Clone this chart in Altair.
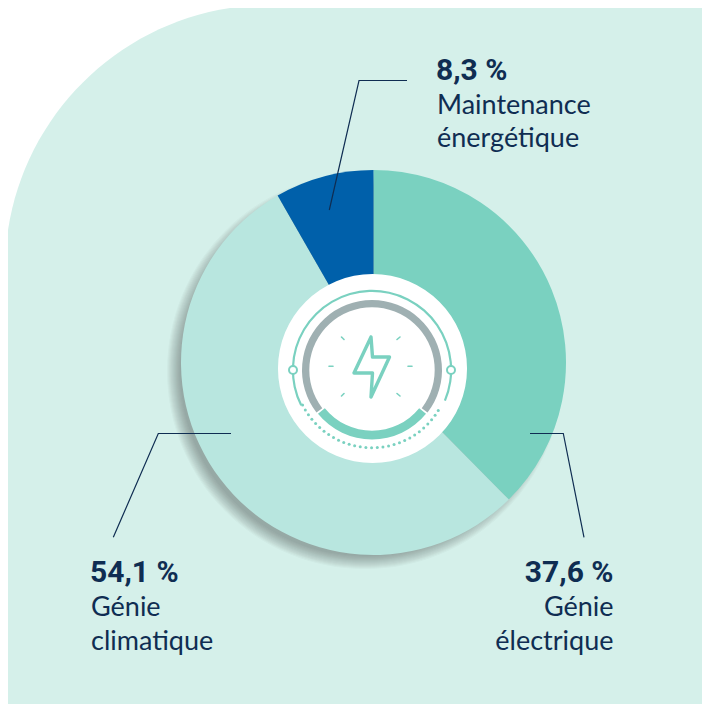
import math
import altair as alt
import pandas as pd

# ---- data ----
CATEGORIES = ["Génie électrique", "Génie climatique", "Maintenance énergétique"]
VALUES = [37.6, 54.1, 8.3]
COLORS = ["#7ad1c0", "#b8e6df", "#0060aa"]

NAVY = "#0f2d52"
TEAL = "#7ad1c0"
GREY = "#9fb0b2"
BG = "#d5f0ea"

PCT_LABELS = [("8,3 %", 436, 79.5, "left"), ("37,6 %", 613.5, 581.5, "right"), ("54,1 %", 90, 581.5, "left")]
NAME_LABELS = [
    ("Maintenance", 437, 114, "left"), ("énergétique", 437, 147, "left"),
    ("Génie", 613.5, 616, "right"), ("électrique", 613.5, 650, "right"),
    ("Génie", 91, 616, "left"), ("climatique", 91, 650, "left"),
]
LEADERS = [
    [(407, 80.5), (359, 80.5), (329.3, 210)],
    [(530, 433.5), (563.3, 433.5), (584, 537.3)],
    [(231, 433.5), (158.3, 433.5), (113.3, 537.3)],
]
PIE_C = (373.5, 362.5)
PIE_R = 192.5
SHADOW_C = (365, 371)
SHADOW_RADII = [198, 197, 196, 195, 194, 193, 192, 191, 190, 189, 188, 187, 186, 185]
HOLE_C = (372.5, 368.5)
HOLE_R = 94.5
ICON_C = (372, 370)
BOLT = [(371, 337), (372.5, 357), (389.5, 357), (371, 397), (372.5, 373), (354, 373), (371, 337)]
TICKS = [
    [(341.5, 337), (344, 339.5)], [(400, 337), (397, 339.5)],
    [(329, 366.3), (333, 366.3)], [(408, 366.3), (412, 366.3)],
    [(341.5, 396), (344, 393.5)], [(400, 396), (397, 393.5)],
]
NODES = [(293, 370), (451, 370)]
DOT_ANGLES = [121.5, 125.7, 129.9, 134.1, 138.3, 142.5, 146.7, 150.9, 155.1, 159.3,
              163.5, 167.7, 171.9, 176.1, 180.3, 184.5, 188.7, 192.9, 197.1, 201.3,
              205.5, 209.7, 213.9, 218.1, 222.3, 226.5, 230.7, 234.9, 239.1, 243.3]

XS = alt.Scale(domain=[8, 702], range=[0, 694])
YS = alt.Scale(domain=[8, 704], range=[0, 696])
X = lambda f="x": alt.X(f"{f}:Q", scale=XS, axis=None)
Y = lambda f="y": alt.Y(f"{f}:Q", scale=YS, axis=None)
TAU = 2 * math.pi
rad = math.radians


def pt(c):
    return pd.DataFrame({"x": [c[0]], "y": [c[1]]})


def disc(c, r, **kw):
    return alt.Chart(pt(c)).mark_arc(theta=0, theta2=TAU, radius=r, radius2=0, **kw).encode(x=X(), y=Y())


def ring(c, r, r2, a, b, **kw):
    return alt.Chart(pt(c)).mark_arc(theta=rad(a), theta2=rad(b), radius=r, radius2=r2, **kw).encode(x=X(), y=Y())


def path(points, **kw):
    df = pd.DataFrame({"x": [p[0] for p in points], "y": [p[1] for p in points], "o": list(range(len(points)))})
    return alt.Chart(df).mark_line(**kw).encode(x=X(), y=Y(), order="o:Q")


def text(rows, **kw):
    df = pd.DataFrame(rows, columns=["t", "x", "y", "a"])
    return [
        alt.Chart(df[df.a == a]).mark_text(align=a, baseline="alphabetic", **kw).encode(x=X(), y=Y(), text="t:N")
        for a in ["left", "right"]
    ]


layers = []
# panel with the large rounded corner
panel = pd.DataFrame({"x": [5], "x2": [740], "y": [5], "y2": [740]})
layers.append(alt.Chart(panel).mark_rect(color=BG, cornerRadiusTopLeft=265).encode(
    x=X(), x2="x2:Q", y=Y(), y2="y2:Q"))
# soft shadow
for r in SHADOW_RADII:
    layers.append(disc(SHADOW_C, r, color="#1c2c2c", opacity=0.026))
# pie
pie = pd.DataFrame({"cat": CATEGORIES, "v": VALUES, "o": [0, 1, 2], "x": PIE_C[0], "y": PIE_C[1]})
layers.append(alt.Chart(pie).mark_arc(radius=PIE_R).encode(
    x=X(), y=Y(),
    theta=alt.Theta("v:Q", stack=True),
    order=alt.Order("o:Q"),
    color=alt.Color("cat:N", scale=alt.Scale(domain=CATEGORIES, range=COLORS), legend=None),
))
layers.append(disc(HOLE_C, HOLE_R, color="#ffffff"))
# icon
layers.append(ring(ICON_C, 80.2, 78, 243.5, 472.8, color=TEAL))
layers.append(ring(ICON_C, 70, 62.7, 232.5, 487.5, color=GREY))
layers.append(ring(ICON_C, 69.5, 60.7, 129, 231, color=TEAL))
dots = pd.DataFrame({
    "x": [ICON_C[0] + 77.7 * math.sin(rad(a)) for a in DOT_ANGLES],
    "y": [ICON_C[1] - 77.7 * math.cos(rad(a)) for a in DOT_ANGLES],
})
layers.append(alt.Chart(dots).mark_circle(color=TEAL, size=9, opacity=1).encode(x=X(), y=Y()))
nodes = pd.DataFrame(NODES, columns=["x", "y"])
layers.append(alt.Chart(nodes).mark_point(filled=False, fill="#ffffff", fillOpacity=1, stroke=TEAL, strokeWidth=2,
                                          opacity=1, size=64, shape="circle").encode(x=X(), y=Y()))
for t in TICKS:
    layers.append(path(t, color=TEAL, strokeWidth=1.6, strokeCap="round"))
layers.append(path(BOLT, color=TEAL, strokeWidth=3.4, strokeJoin="round", strokeCap="round"))
# leaders
for l in LEADERS:
    layers.append(path(l, color=NAVY, strokeWidth=1.2))
# labels
layers += text(PCT_LABELS, font="Roboto", fontWeight="bold", fontSize=30, color=NAVY)
layers += text(NAME_LABELS, font="Lato", fontSize=27, color=NAVY)

chart = alt.layer(*layers).properties(
    width=694, height=696, padding=0, autosize=alt.AutoSizeParams(type="none"), background="#ffffff",
).configure_view(stroke=None)

chart.save("out.html", embed_options={"renderer": "svg", "actions": False})
